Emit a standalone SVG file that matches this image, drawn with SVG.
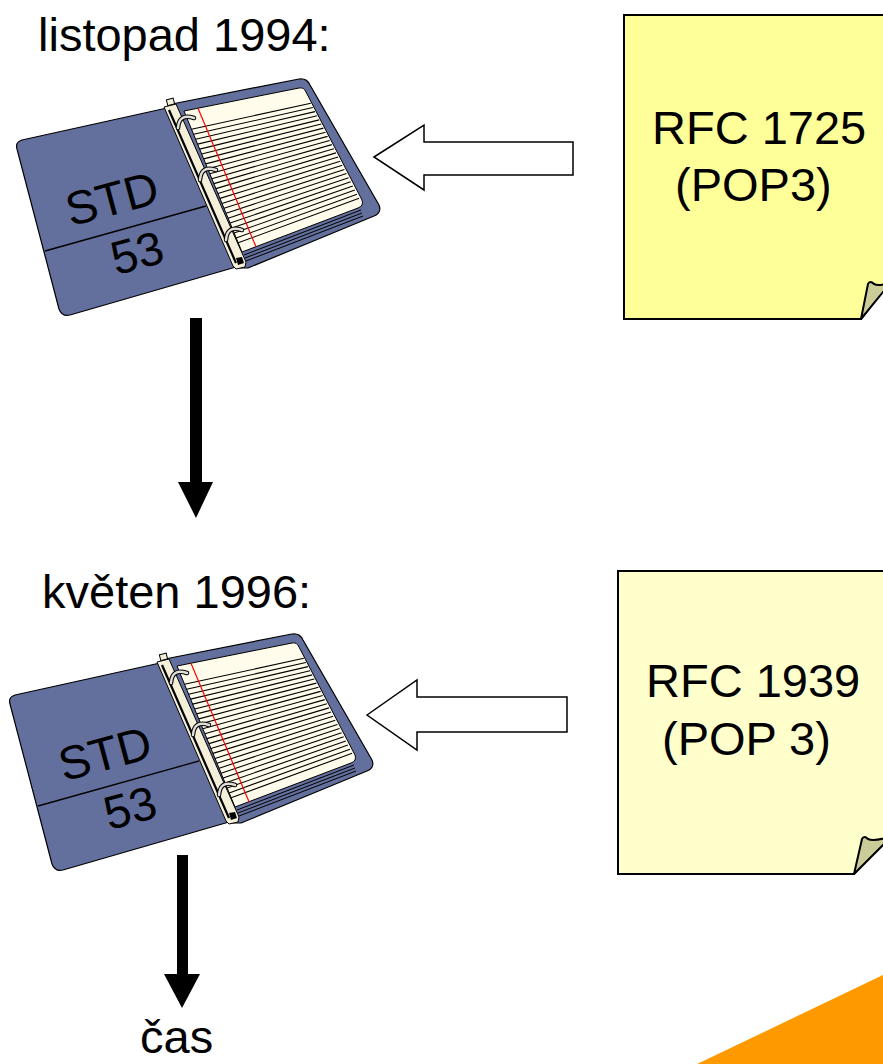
<svg xmlns="http://www.w3.org/2000/svg" xmlns:xlink="http://www.w3.org/1999/xlink" width="883" height="1064" viewBox="0 0 883 1064">
<style>
.t{font-family:"Liberation Sans",Arial,sans-serif;font-size:47px;fill:#000}
.cover{fill:#636F9C;stroke:#000;stroke-width:1.2;stroke-linejoin:round}
.paper{fill:#FFFCEC;stroke:#000;stroke-width:1}
.rule{stroke:#000;stroke-width:1.1}
.red{stroke:#FF0000;stroke-width:1.2}
.spine{fill:#F4EFD8;stroke:#000;stroke-width:1}
.ringo{fill:none;stroke:#000;stroke-width:4.5;stroke-linecap:round}
.ringi{fill:none;stroke:#E0DED8;stroke-width:2.5;stroke-linecap:round}
.hollow{fill:#fff;stroke:#000;stroke-width:1.5}
.solid{fill:#000}
.note1{fill:#FFFF99;stroke:#000;stroke-width:2}
.note2{fill:#FFFFCC;stroke:#000;stroke-width:2}
.fold{fill:#CCCC99;stroke:#000;stroke-width:2;stroke-linejoin:round}
</style>
<defs>
<g id="binderArt">
<path class="cover" d="M172,104 L299,79 Q307,78 310,85 L379,205 Q382,213 374,216 L248,268 L238,268 Z"/>
<path class="paper" d="M244,255 L361,210 M245,258 L362,213 M246,261 L363,216" fill="none"/>
<path class="paper" d="M184,111 L299,88 Q304,87 306,92 L362,200 Q364,206 358,208 L242,252 Z"/>
<g class="rule">
<line x1="191.5" y1="129.3" x2="310.8" y2="103.3"/>
<line x1="193.6" y1="134.3" x2="312.9" y2="107.5"/>
<line x1="195.6" y1="139.2" x2="315.0" y2="111.6"/>
<line x1="197.6" y1="144.1" x2="317.1" y2="115.7"/>
<line x1="199.7" y1="149.1" x2="319.2" y2="119.9"/>
<line x1="201.7" y1="154.0" x2="321.3" y2="124.0"/>
<line x1="203.7" y1="158.9" x2="323.4" y2="128.1"/>
<line x1="205.8" y1="163.9" x2="325.5" y2="132.3"/>
<line x1="207.8" y1="168.8" x2="327.6" y2="136.4"/>
<line x1="209.8" y1="173.7" x2="329.7" y2="140.5"/>
<line x1="211.8" y1="178.7" x2="331.8" y2="144.6"/>
<line x1="213.9" y1="183.6" x2="333.9" y2="148.8"/>
<line x1="215.9" y1="188.6" x2="336.0" y2="152.9"/>
<line x1="217.9" y1="193.5" x2="338.1" y2="157.0"/>
<line x1="220.0" y1="198.4" x2="340.2" y2="161.2"/>
<line x1="222.0" y1="203.4" x2="342.3" y2="165.3"/>
<line x1="224.0" y1="208.3" x2="344.4" y2="169.4"/>
<line x1="226.1" y1="213.2" x2="346.5" y2="173.6"/>
<line x1="228.1" y1="218.2" x2="348.6" y2="177.7"/>
<line x1="230.1" y1="223.1" x2="350.7" y2="181.8"/>
<line x1="232.1" y1="228.0" x2="352.8" y2="185.9"/>
<line x1="234.2" y1="233.0" x2="354.9" y2="190.1"/>
<line x1="236.2" y1="237.9" x2="357.0" y2="194.2"/>
<line x1="238.2" y1="242.8" x2="359.1" y2="198.3"/>
</g>
<line class="red" x1="198" y1="108.3" x2="256" y2="246.7"/>
<path class="cover" d="M167,108 L22,140 Q15,142 17,149 L59,309 Q62,317 70,315 L236,267 Z"/>
<line x1="45" y1="251" x2="206" y2="206" stroke="#000" stroke-width="1.3"/>
<path class="spine" d="M164,107 L176,104 L246,262 L245,267 L236,269 L233,266 Z"/>
<rect class="spine" x="167" y="99" width="7" height="6" transform="rotate(-14 170 102)"/>
<path d="M169,110 L236,263" stroke="#000" stroke-width="2.2"/>
<path d="M236,258 L242,257 L244,263 L238,265 Z" fill="#000"/>
<path class="ringo" d="M178,128 Q179,113 194,118"/>
<path class="ringi" d="M178,128 Q179,113 194,118"/>
<path class="ringo" d="M200,180 Q201,165 216,170"/>
<path class="ringi" d="M200,180 Q201,165 216,170"/>
<path class="ringo" d="M226,240 Q227,225 242,230"/>
<path class="ringi" d="M226,240 Q227,225 242,230"/>
</g>
</defs>

<g id="label-1994"><text class="t" x="38" y="51">listopad 1994:</text></g>
<g id="label-1996"><text class="t" x="42" y="608">květen 1996:</text></g>

<g id="binder-1">
<use xlink:href="#binderArt" href="#binderArt"/>
<text class="t" font-size="46" text-anchor="middle" x="112" y="215" transform="rotate(-15 112 199)">STD</text>
<text class="t" font-size="46" text-anchor="middle" x="137" y="269" transform="rotate(-15 137 253)">53</text>
</g>

<g id="binder-2">
<use xlink:href="#binderArt" href="#binderArt" transform="translate(-7 555)"/>
<text class="t" font-size="46" text-anchor="middle" x="105" y="770" transform="rotate(-15 105 754)">STD</text>
<text class="t" font-size="46" text-anchor="middle" x="130" y="824" transform="rotate(-15 130 808)">53</text>
</g>

<g id="note-rfc1725">
<path class="note1" d="M624,15 H892 V278 L861,319 H624 Z"/>
<path class="fold" d="M861,319 L868,284 Q870,280 874,284 Q880,287 892,281 Z"/>
<text class="t" x="652" y="144">RFC 1725</text>
<text class="t" x="675" y="201">(POP3)</text>
</g>

<g id="note-rfc1939">
<path class="note2" d="M618,571 H892 V833 L854,874 H618 Z"/>
<path class="fold" d="M854,874 L862,839 Q864,835 868,839 Q874,842 892,836 Z"/>
<text class="t" x="646" y="697">RFC 1939</text>
<text class="t" x="662" y="755">(POP 3)</text>
</g>

<g id="connectors">
<path class="hollow" d="M374,157 L424,125 L424,142 L573,142 L573,175 L424,175 L424,190 Z"/>
<path class="hollow" d="M367,715 L417,680 L417,697 L567,697 L567,732 L417,732 L417,750 Z"/>
<path class="solid" d="M190,318 H202 V482 H213 L196,518 L178,482 H190 Z"/>
<path class="solid" d="M177,855 H188 V974 H200 L182,1008 L164,974 H177 Z"/>
</g>

<g id="label-cas"><text class="t" x="140" y="1053">čas</text></g>

<polygon points="697,1064 883,975 883,1064" fill="#FF9900"/>
</svg>
